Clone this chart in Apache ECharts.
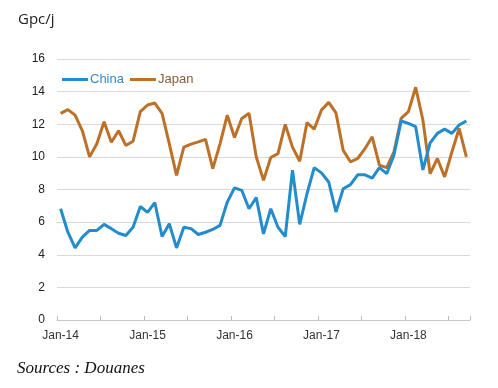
<!DOCTYPE html>
<html>
<head>
<meta charset="utf-8">
<script src="https://cdn.jsdelivr.net/npm/echarts@6/dist/echarts.min.js"></script>
<style>
html,body{margin:0;padding:0;background:#fff;}
#chart{width:498px;height:388px;}
</style>
</head>
<body>
<div id="chart"></div>
<script>
var months = [
 'Jan-14','Feb-14','Mar-14','Apr-14','May-14','Jun-14','Jul-14','Aug-14','Sep-14','Oct-14','Nov-14','Dec-14',
 'Jan-15','Feb-15','Mar-15','Apr-15','May-15','Jun-15','Jul-15','Aug-15','Sep-15','Oct-15','Nov-15','Dec-15',
 'Jan-16','Feb-16','Mar-16','Apr-16','May-16','Jun-16','Jul-16','Aug-16','Sep-16','Oct-16','Nov-16','Dec-16',
 'Jan-17','Feb-17','Mar-17','Apr-17','May-17','Jun-17','Jul-17','Aug-17','Sep-17','Oct-17','Nov-17','Dec-17',
 'Jan-18','Feb-18','Mar-18','Apr-18','May-18','Jun-18','Jul-18','Aug-18','Sep-18'
];
var china = [
 6.82,5.38,4.42,5.08,5.49,5.49,5.86,5.6,5.32,5.18,5.69,6.96,
 6.6,7.2,5.12,5.9,4.42,5.69,5.6,5.24,5.38,5.55,5.8,7.23,
 8.1,7.95,6.82,7.5,5.28,6.82,5.69,5.12,9.18,5.86,7.74,9.34,
 9.02,8.46,6.62,8.05,8.3,8.9,8.9,8.7,9.34,8.97,10.1,12.2,
 12.05,11.85,9.2,10.86,11.44,11.7,11.44,11.95,12.2
];
var japan = [
 12.67,12.9,12.56,11.6,10.0,10.8,12.15,10.9,11.6,10.7,10.96,12.77,
 13.18,13.3,12.67,10.8,8.87,10.6,10.78,10.92,11.07,9.28,10.8,12.56,
 11.19,12.35,12.67,10.0,8.56,9.96,10.2,11.99,10.6,9.73,12.1,11.7,
 12.87,13.34,12.7,10.4,9.7,9.9,10.5,11.23,9.49,9.34,10.3,12.36,
 12.77,14.27,12.26,8.97,9.9,8.77,10.3,11.74,10.0
];
var yTicks = [0,2,4,6,8,10,12,14,16];

var chart = echarts.init(document.getElementById('chart'), null, {renderer:'canvas'});
chart.setOption({
  animation:false,
  backgroundColor:'#ffffff',
  graphic:[
    {type:'text', left:18, top:12, style:{text:'Gpc/j', font:'15px "Open Sans", sans-serif', fill:'#222'}},
    {type:'text', left:17, top:360, style:{text:'Sources : Douanes', font:'italic 17px "Liberation Serif", serif', fill:'#111'}}
  ],
  legend:{
    left:57, top:68, itemWidth:26, itemHeight:3, itemGap:6,
    icon:'rect',
    data:[
      {name:'China', textStyle:{color:'#3a8ac4'}},
      {name:'Japan', textStyle:{color:'#8a5a3a'}}
    ],
    textStyle:{fontFamily:'Liberation Sans, Arial, sans-serif', fontSize:13, padding:[0,0,0,-3]}
  },
  grid:{left:57, right:28, top:59, bottom:68, containLabel:false},
  xAxis:{
    type:'category', data:months, boundaryGap:true,
    axisLine:{lineStyle:{color:'#c8c8c8', width:1}},
    axisTick:{show:true, inside:true, length:4, interval:5, lineStyle:{color:'#bbbbbb'}},
    axisLabel:{interval:11, color:'#333', fontFamily:'Liberation Sans, Arial, sans-serif', fontSize:12, margin:10},
    splitLine:{show:false}
  },
  yAxis:{
    type:'value', min:yTicks[0], max:yTicks[yTicks.length-1], interval:2,
    axisLine:{show:false}, axisTick:{show:false},
    axisLabel:{color:'#222', fontFamily:'Liberation Sans, Arial, sans-serif', fontSize:12, margin:12},
    splitLine:{lineStyle:{color:'#d9d9d9', width:1}}
  },
  series:[
    {name:'China', type:'line', data:china, symbol:'none', color:'#238ccc',
     lineStyle:{width:3, color:'#238ccc'}, z:3},
    {name:'Japan', type:'line', data:japan, symbol:'none', color:'#bd7128',
     lineStyle:{width:3, color:'#bd7128'}, z:2}
  ]
});
</script>
</body>
</html>
